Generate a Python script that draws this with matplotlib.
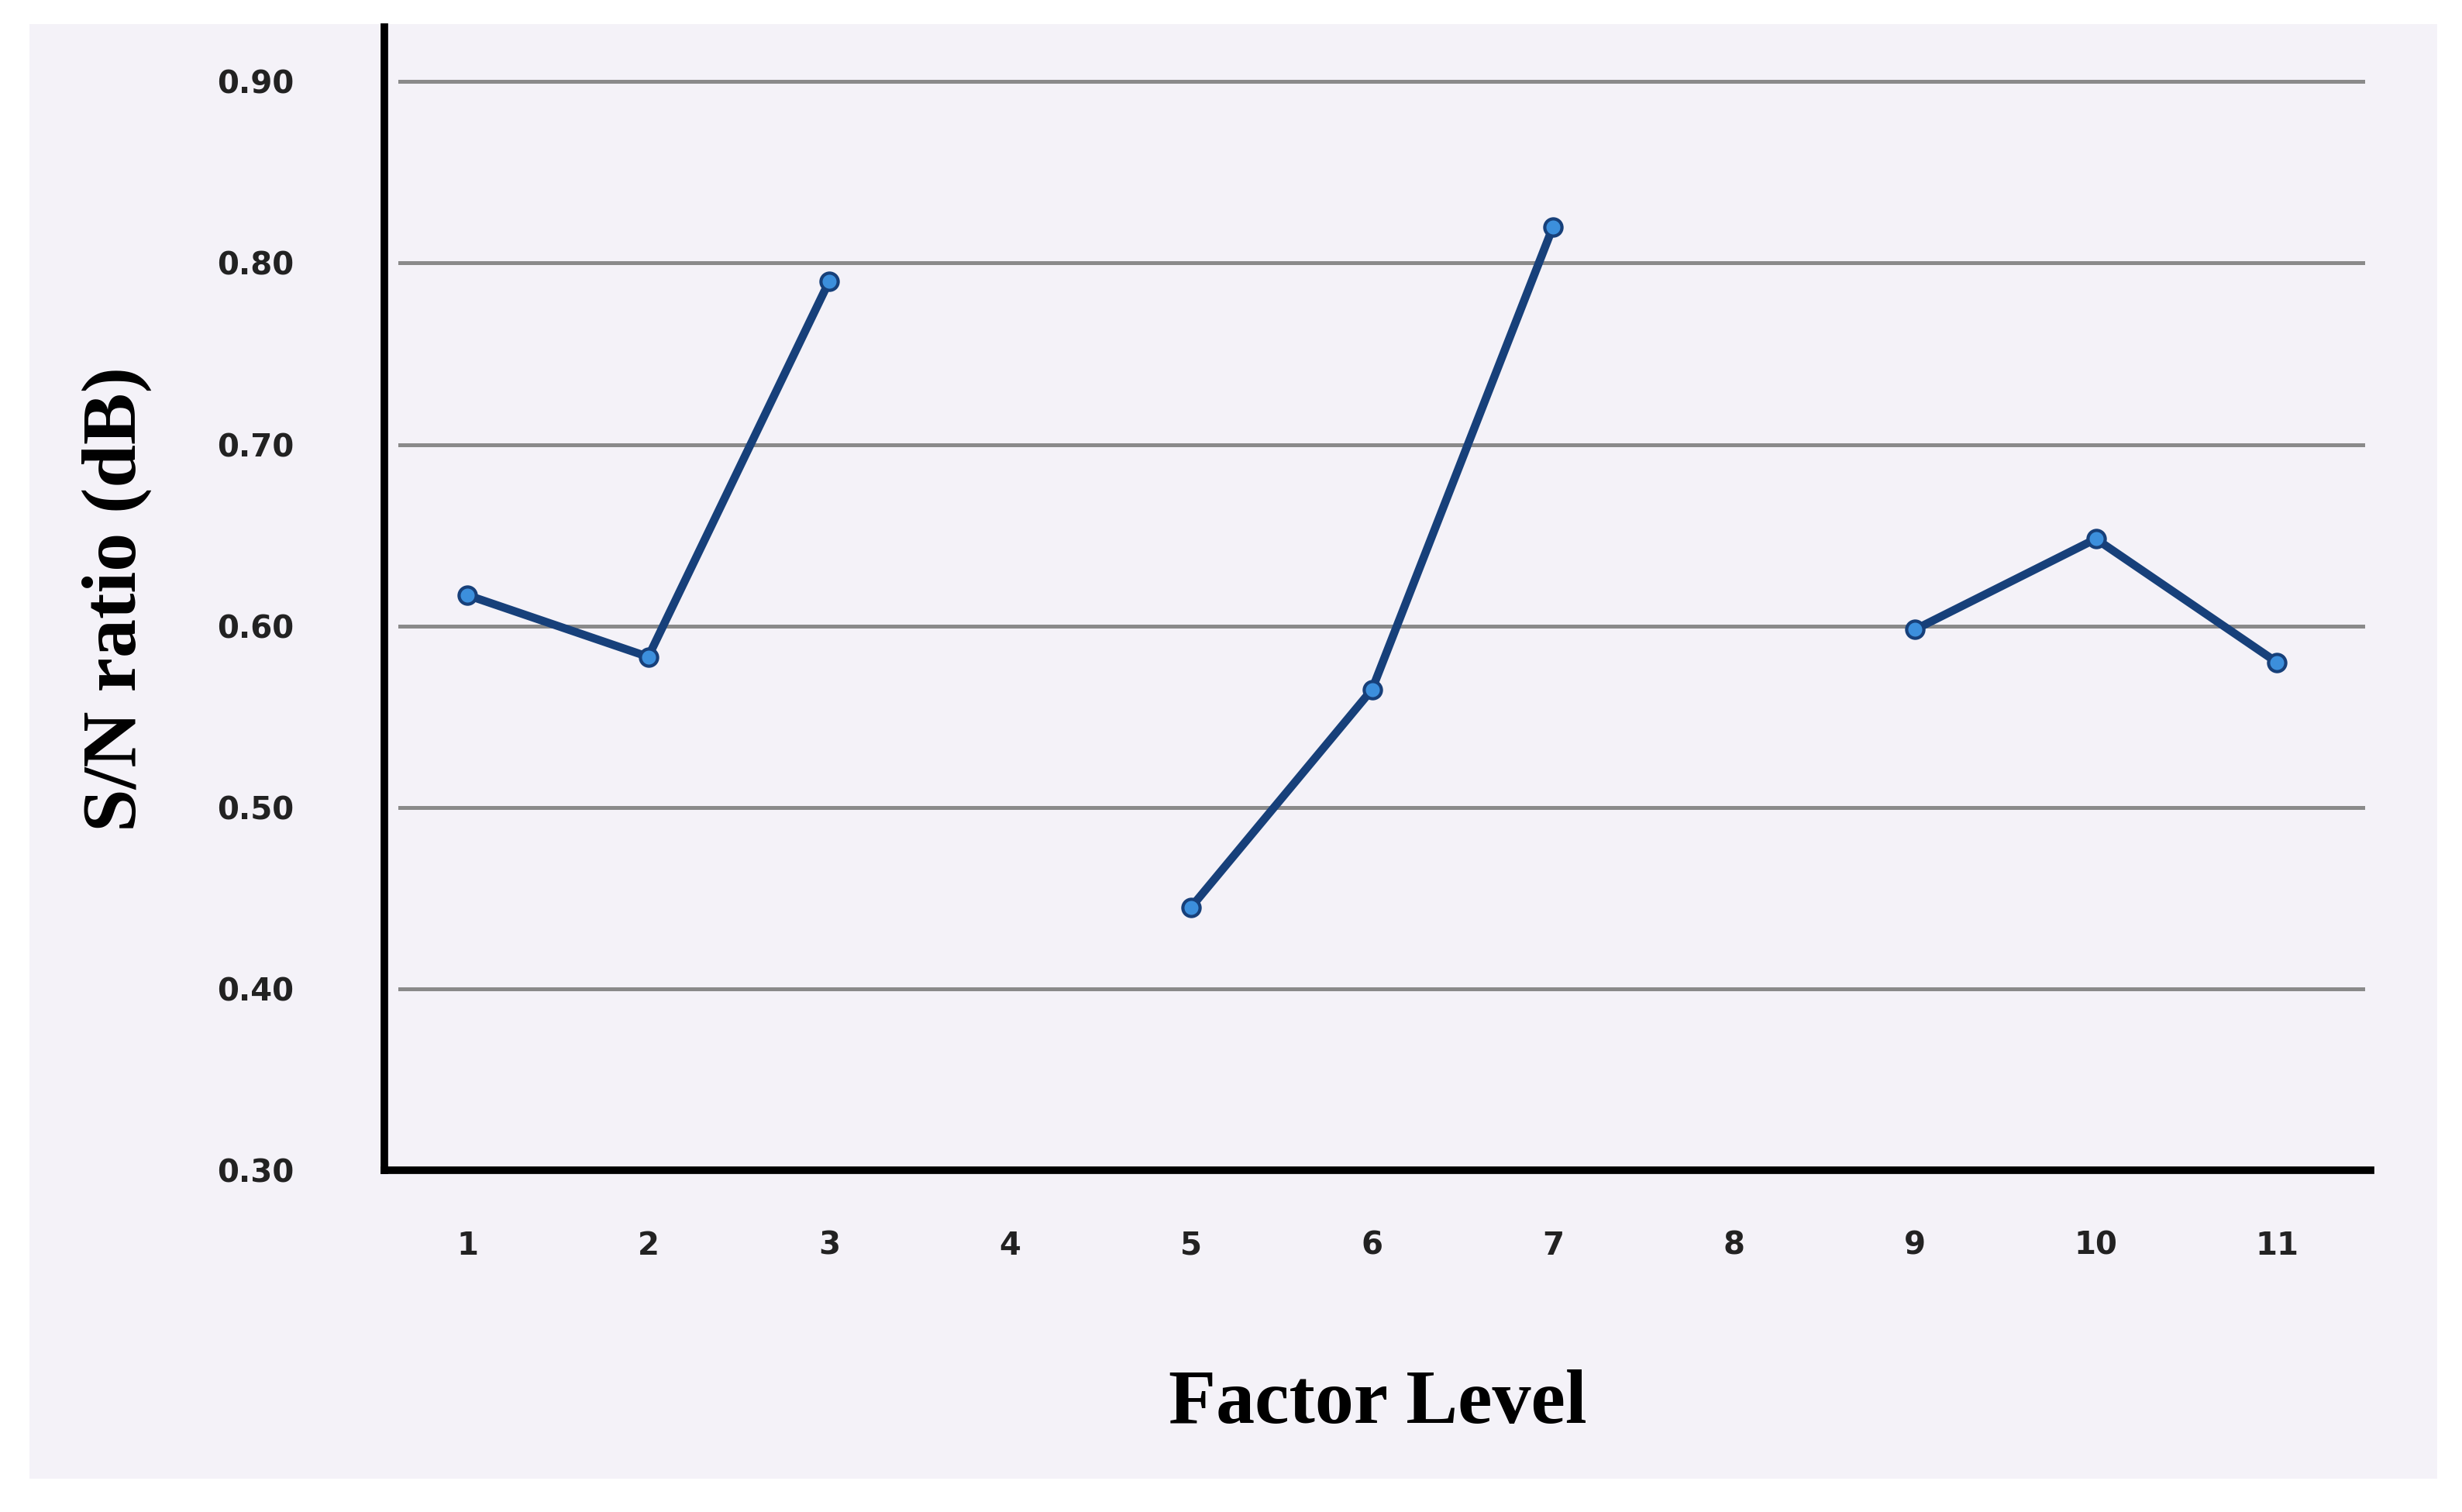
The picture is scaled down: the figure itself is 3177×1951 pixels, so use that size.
import numpy as np
import matplotlib.pyplot as plt

levels = [1, 2, 3, 4, 5, 6, 7, 8, 9, 10, 11]
groups_x = [[1, 2, 3], [5, 6, 7], [9, 10, 11]]
groups_y = [[0.617, 0.583, 0.790], [0.445, 0.565, 0.820], [0.598, 0.648, 0.580]]
yticks = [0.30, 0.40, 0.50, 0.60, 0.70, 0.80, 0.90]

fig = plt.figure(figsize=(15.885, 9.755), dpi=200)
fig.patch.set_facecolor('white')
fig.patches.append(plt.Rectangle((0.012, 0.022), 0.978, 0.962, transform=fig.transFigure,
                                 facecolor='#f4f2f8', edgecolor='none', zorder=-10))
ax = fig.add_axes([0.156, 0.226, 0.807, 0.756])
ax.set_facecolor('#f4f2f8')

for yv in yticks[1:]:
    ax.axhline(yv, xmin=0.008, xmax=0.996, color='#8a8a8a', lw=1.8, zorder=1)

for xs, ys in zip(groups_x, groups_y):
    ax.plot(xs, ys, color='#17407a', lw=3.8, marker='o', markersize=8,
            markerfacecolor='#3c8fdc', markeredgecolor='#17407a', markeredgewidth=1.5, zorder=3)

ax.set_xlim(0.54, 11.52)
ax.set_ylim(0.30, 0.93)
ax.set_xticks(levels)
ax.set_yticks(yticks)
ax.set_yticklabels([f'{v:.2f}' for v in yticks])
for s in ['top', 'right']:
    ax.spines[s].set_visible(False)
for s in ['left', 'bottom']:
    ax.spines[s].set_linewidth(3.5)
    ax.spines[s].set_color('black')
ax.tick_params(length=0, labelsize=14.5, pad=28)
ax.tick_params(axis='y', pad=42)
for lab in ax.get_xticklabels() + ax.get_yticklabels():
    lab.set_fontweight('bold')
    lab.set_color('#222222')

ax.set_ylabel('S/N ratio (dB)', family='Liberation Serif', fontsize=36, fontweight='bold', labelpad=30)
ax.set_xlabel('Factor Level', family='Liberation Serif', fontsize=36, fontweight='bold', labelpad=50)

fig.savefig('out.png', dpi=200)
